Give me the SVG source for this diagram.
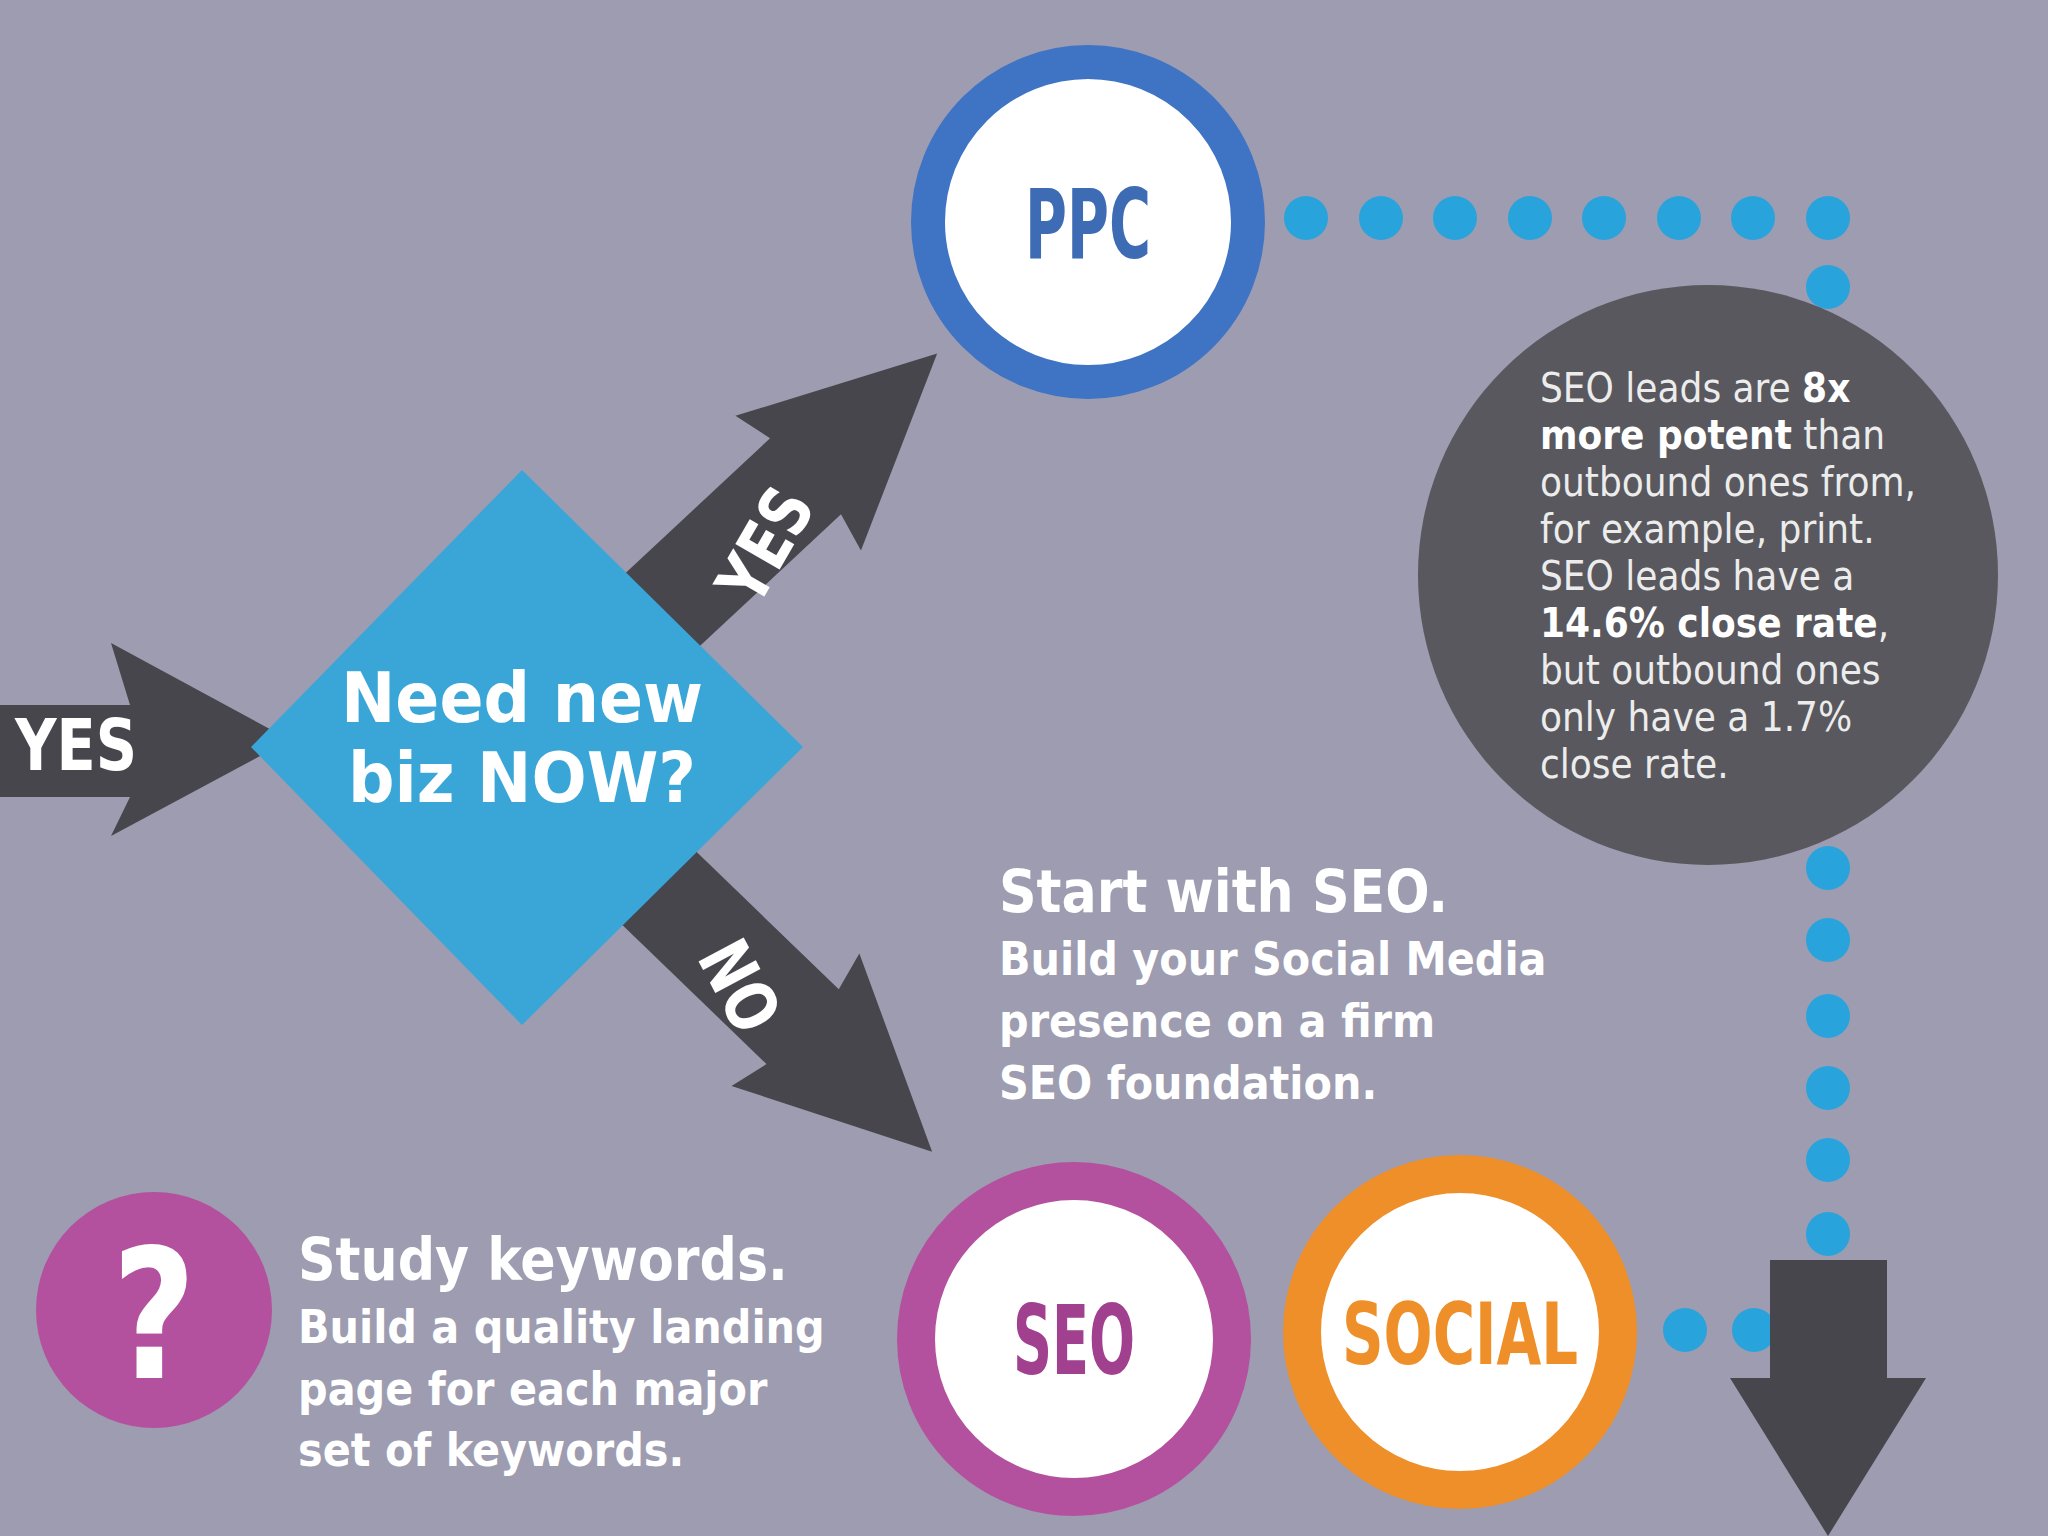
<svg xmlns="http://www.w3.org/2000/svg" width="2048" height="1536" viewBox="0 0 2048 1536">
<style>
.c{font-family:"DejaVu Sans Condensed","DejaVu Sans",sans-serif;font-weight:bold}
.t{font-family:"DejaVu Sans Condensed","DejaVu Sans",sans-serif;fill:#fff}
.g{font-family:"DejaVu Sans Condensed","DejaVu Sans",sans-serif;fill:#ececec;font-size:40px}
.dot{fill:#29a3dc}
.arr{fill:#46464c}
</style>
<rect width="2048" height="1536" fill="#9d9cb0"/>
<g id="connectors">
<g class="dot">
<circle cx="1306" cy="218" r="22"/><circle cx="1381" cy="218" r="22"/><circle cx="1455" cy="218" r="22"/><circle cx="1530" cy="218" r="22"/><circle cx="1604" cy="218" r="22"/><circle cx="1679" cy="218" r="22"/><circle cx="1753" cy="218" r="22"/><circle cx="1828" cy="218" r="22"/>
<circle cx="1828" cy="287" r="22"/><circle cx="1828" cy="868" r="22"/><circle cx="1828" cy="940" r="22"/><circle cx="1828" cy="1016" r="22"/><circle cx="1828" cy="1088" r="22"/><circle cx="1828" cy="1160" r="22"/><circle cx="1828" cy="1234" r="22"/>
<circle cx="1685" cy="1330" r="22"/><circle cx="1754" cy="1330" r="22"/>
</g>
<path class="arr" d="M0 705 H130 L111 643 L290 740 L111 836 L130 797 H0 Z"/>
<g transform="translate(630,640) rotate(-43)"><path class="arr" d="M0 -52 H240 L230 -92 L420 0 L230 92 L240 52 H0 Z"/></g>
<g transform="translate(630,860) rotate(44)"><path class="arr" d="M0 -52 H240 L230 -92 L420 0 L230 92 L240 52 H0 Z"/></g>
<path class="arr" d="M1770 1260 H1887 V1378 H1926 L1828 1536 L1730 1378 H1770 Z"/>
<text class="c" x="76" y="770" font-size="72" fill="#fff" text-anchor="middle" textLength="122" lengthAdjust="spacingAndGlyphs">YES</text>
<text class="c" transform="translate(765,545) rotate(-60)" font-size="70" fill="#fff" text-anchor="middle" dy="25" textLength="120" lengthAdjust="spacingAndGlyphs">YES</text>
<text class="c" transform="translate(740,986) rotate(62)" font-size="70" fill="#fff" text-anchor="middle" dy="25" textLength="92" lengthAdjust="spacingAndGlyphs">NO</text>
</g>
<g id="decision">
<path d="M522 470 L803 747 L522 1025 L251 747 Z" fill="#3aa6d8"/>
<text class="t" font-weight="bold" font-size="70" text-anchor="middle" x="522" y="722" textLength="362" lengthAdjust="spacingAndGlyphs">Need new</text>
<text class="t" font-weight="bold" font-size="70" text-anchor="middle" x="522" y="802" textLength="348" lengthAdjust="spacingAndGlyphs">biz NOW?</text>
</g>
<g id="ppc">
<circle cx="1088" cy="222" r="160" fill="#fff" stroke="#3f74c4" stroke-width="34"/>
<text class="c" x="1088" y="258" font-size="96" fill="#3d6cb5" text-anchor="middle" textLength="126" lengthAdjust="spacingAndGlyphs">PPC</text>
</g>
<g id="stat">
<circle cx="1708" cy="575" r="290" fill="#58585e"/>
<text class="g" x="1540" y="402">SEO leads are <tspan font-weight="bold" fill="#fff">8x</tspan></text>
<text class="g" x="1540" y="449"><tspan font-weight="bold" fill="#fff">more potent</tspan> than</text>
<text class="g" x="1540" y="496">outbound ones from,</text>
<text class="g" x="1540" y="543">for example, print.</text>
<text class="g" x="1540" y="590">SEO leads have a</text>
<text class="g" x="1540" y="637"><tspan font-weight="bold" fill="#fff">14.6% close rate</tspan>,</text>
<text class="g" x="1540" y="684">but outbound ones</text>
<text class="g" x="1540" y="731">only have a 1.7%</text>
<text class="g" x="1540" y="778">close rate.</text>
</g>
<g id="start-seo-text">
<text class="t" font-weight="bold" font-size="58" x="999" y="912">Start with SEO.</text>
<text class="t" font-weight="bold" font-size="46" x="999" y="975">Build your Social Media</text>
<text class="t" font-weight="bold" font-size="46" x="999" y="1037">presence on a firm</text>
<text class="t" font-weight="bold" font-size="46" x="999" y="1099">SEO foundation.</text>
</g>
<g id="seo">
<circle cx="1074" cy="1339" r="158" fill="#fff" stroke="#b4519e" stroke-width="38"/>
<text class="c" x="1074" y="1374" font-size="96" fill="#a0408e" text-anchor="middle" textLength="122" lengthAdjust="spacingAndGlyphs">SEO</text>
</g>
<g id="social">
<circle cx="1460" cy="1332" r="158" fill="#fff" stroke="#ee8f2a" stroke-width="38"/>
<text class="c" x="1460" y="1364" font-size="86" fill="#ee8f2a" text-anchor="middle" textLength="236" lengthAdjust="spacingAndGlyphs">SOCIAL</text>
</g>
<g id="keywords">
<circle cx="154" cy="1310" r="118" fill="#b4519e"/>
<text class="c" x="154" y="1378" font-size="180" fill="#fff" text-anchor="middle" textLength="84" lengthAdjust="spacingAndGlyphs">?</text>
<text class="t" font-weight="bold" font-size="58" x="298" y="1280">Study keywords.</text>
<text class="t" font-weight="bold" font-size="46" x="298" y="1343">Build a quality landing</text>
<text class="t" font-weight="bold" font-size="46" x="298" y="1405">page for each major</text>
<text class="t" font-weight="bold" font-size="46" x="298" y="1466">set of keywords.</text>
</g>
</svg>
